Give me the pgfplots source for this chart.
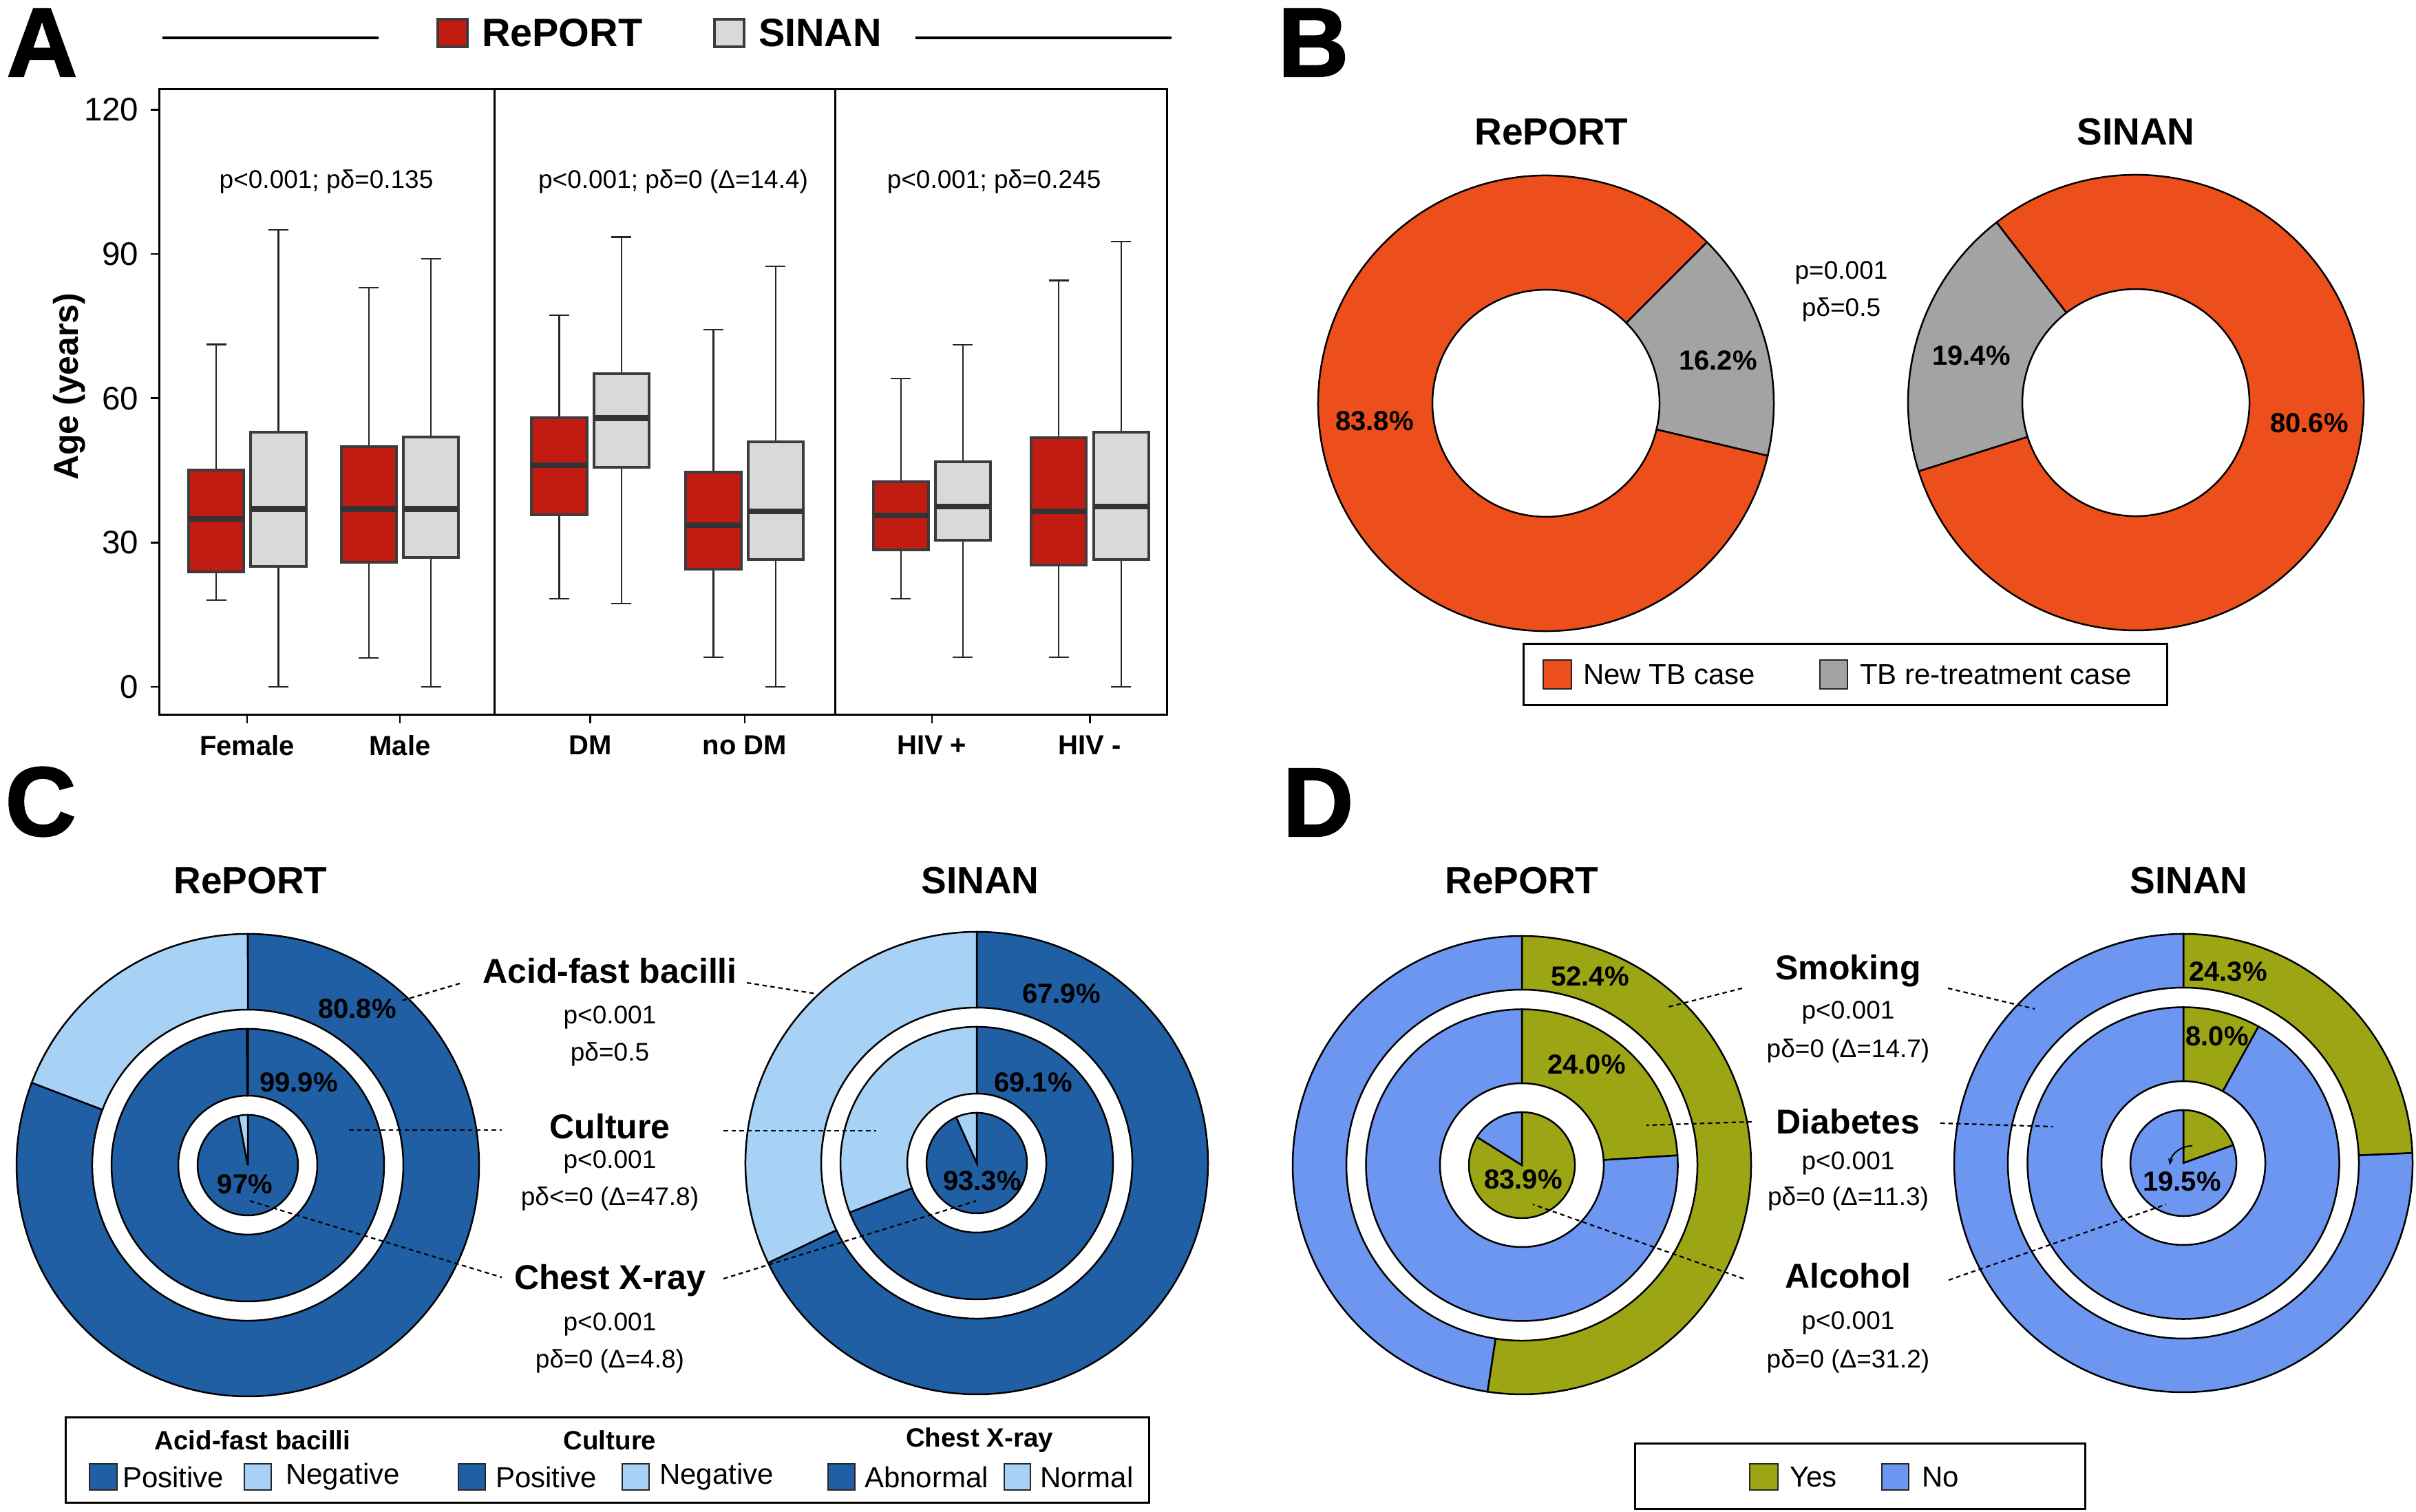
\documentclass[border=0pt]{standalone}
\usepackage{fontspec}
\setmainfont{Liberation Sans}
\newfontfamily\letterfont{Liberation Sans Bold}[FakeBold=1.6]
\usepackage{pgfplots}
\pgfplotsset{compat=1.18}
\usepgfplotslibrary{statistics}
\usetikzlibrary{arrows.meta}

\definecolor{repred}{RGB}{194,27,18}
\definecolor{sinangray}{RGB}{217,217,217}
\definecolor{boxedge}{RGB}{60,60,60}
\definecolor{neworange}{RGB}{236,79,28}
\definecolor{retgray}{RGB}{163,163,163}
\definecolor{dblue}{RGB}{33,95,164}
\definecolor{lblue}{RGB}{168,210,245}
\definecolor{ygreen}{RGB}{156,165,20}
\definecolor{nblue}{RGB}{109,150,240}

% annulus segment: cx cy rin rout a b colour  (axis units = 0.2pt)
\newcommand{\seg}[7]{\fill[#7, draw=black, line width=0.5pt] (axis cs:{#1+#4*cos(#5)},{#2+#4*sin(#5)}) arc[start angle={#5}, end angle={#6}, radius={#4*0.2pt}] -- (axis cs:{#1+#3*cos(#6)},{#2+#3*sin(#6)}) arc[start angle={#6}, end angle={#5}, radius={#3*0.2pt}] -- cycle;}
% pie segment: cx cy r a b colour
\newcommand{\pieseg}[6]{\fill[#6, draw=black, line width=0.5pt] (axis cs:#1,#2) -- (axis cs:{#1+#3*cos(#4)},{#2+#3*sin(#4)}) arc[start angle={#4}, end angle={#5}, radius={#3*0.2pt}] -- cycle;}
% ring: cx cy rin rout pct colA colB start (clockwise)
\newcommand{\ring}[8]{\seg{#1}{#2}{#3}{#4}{#8}{#8-3.6*#5}{#6}\seg{#1}{#2}{#3}{#4}{#8-3.6*#5}{#8-360}{#7}}
% pie: cx cy r pct colA colB start
\newcommand{\pie}[7]{\pieseg{#1}{#2}{#3}{#7}{#7-3.6*#4}{#5}\pieseg{#1}{#2}{#3}{#7-3.6*#4}{#7-360}{#6}}

\newcommand{\fs}[1]{\fontsize{#1}{#1}\selectfont}
\tikzset{lead/.style={dash pattern=on 1.3pt off 1pt, line width=0.45pt},
  sq/.style={draw=black!85, line width=0.5pt}}

\begin{document}
\begin{tikzpicture}
\path[use as bounding box] (0,0) rectangle (702pt,439.4pt);

% ---------------- Panel A : boxplots ----------------
\begin{axis}[
  at={(46.2pt,231.6pt)}, anchor=south west, scale only axis,
  width=292.8pt, height=181.8pt,
  xmin=2.07, xmax=15.20, ymin=-5.87, ymax=124.2,
  ytick={0,30,60,90,120},
  xtick={3.22,5.21,7.69,9.70,12.14,14.20},
  xticklabels={Female,Male,DM,no DM,HIV +,HIV -},
  tick align=outside, tick pos=left, major tick length=2.4pt,
  axis line style={line width=0.6pt},
  every tick/.style={black, line width=0.5pt},
  /pgf/number format/assume math mode=true,
  yticklabel style={font=\fs{9.5}},
  xticklabel style={font=\bfseries\fs{8}},
  ylabel={Age (years)},
  ylabel style={font=\bfseries\fs{10}, at={(axis description cs:-0.0888,0.525)}, anchor=center},
  boxplot/draw direction=y,
  boxplot/every median/.style={line width=1.7pt, draw=black!80},
  boxplot/every whisker/.style={line width=0.45pt, draw=black!85},
  boxplot/every box/.style={line width=0.8pt},
  clip=false,
]
% Female
\addplot[fill=repred, draw=boxedge, boxplot prepared={draw position=2.815, lower whisker=18.0, lower quartile=23.9, median=34.9, upper quartile=45.1, upper whisker=71.2, box extend=0.72, whisker extend=0.26}] coordinates {};
\addplot[fill=sinangray, draw=boxedge, boxplot prepared={draw position=3.625, lower whisker=0, lower quartile=25.0, median=37.0, upper quartile=53.0, upper whisker=95.0, box extend=0.72, whisker extend=0.26}] coordinates {};
% Male
\addplot[fill=repred, draw=boxedge, boxplot prepared={draw position=4.805, lower whisker=6.0, lower quartile=25.9, median=37.0, upper quartile=50.0, upper whisker=83.0, box extend=0.72, whisker extend=0.26}] coordinates {};
\addplot[fill=sinangray, draw=boxedge, boxplot prepared={draw position=5.615, lower whisker=0, lower quartile=26.9, median=37.0, upper quartile=52.0, upper whisker=89.0, box extend=0.72, whisker extend=0.26}] coordinates {};
% DM
\addplot[fill=repred, draw=boxedge, boxplot prepared={draw position=7.285, lower whisker=18.3, lower quartile=35.7, median=46.1, upper quartile=55.9, upper whisker=77.3, box extend=0.72, whisker extend=0.26}] coordinates {};
\addplot[fill=sinangray, draw=boxedge, boxplot prepared={draw position=8.095, lower whisker=17.3, lower quartile=45.6, median=55.9, upper quartile=65.1, upper whisker=93.5, box extend=0.72, whisker extend=0.26}] coordinates {};
% no DM
\addplot[fill=repred, draw=boxedge, boxplot prepared={draw position=9.295, lower whisker=6.1, lower quartile=24.4, median=33.6, upper quartile=44.7, upper whisker=74.3, box extend=0.72, whisker extend=0.26}] coordinates {};
\addplot[fill=sinangray, draw=boxedge, boxplot prepared={draw position=10.105, lower whisker=0, lower quartile=26.4, median=36.5, upper quartile=50.9, upper whisker=87.4, box extend=0.72, whisker extend=0.26}] coordinates {};
% HIV +
\addplot[fill=repred, draw=boxedge, boxplot prepared={draw position=11.735, lower whisker=18.3, lower quartile=28.4, median=35.6, upper quartile=42.7, upper whisker=64.1, box extend=0.72, whisker extend=0.26}] coordinates {};
\addplot[fill=sinangray, draw=boxedge, boxplot prepared={draw position=12.545, lower whisker=6.1, lower quartile=30.5, median=37.5, upper quartile=46.8, upper whisker=71.1, box extend=0.72, whisker extend=0.26}] coordinates {};
% HIV -
\addplot[fill=repred, draw=boxedge, boxplot prepared={draw position=13.795, lower whisker=6.1, lower quartile=25.3, median=36.5, upper quartile=51.8, upper whisker=84.5, box extend=0.72, whisker extend=0.26}] coordinates {};
\addplot[fill=sinangray, draw=boxedge, boxplot prepared={draw position=14.605, lower whisker=0, lower quartile=26.4, median=37.5, upper quartile=53.0, upper whisker=92.6, box extend=0.72, whisker extend=0.26}] coordinates {};
% group dividers
\addplot[black, line width=0.6pt] coordinates {(6.44,-5.87) (6.44,124.2)};
\addplot[black, line width=0.6pt] coordinates {(10.88,-5.87) (10.88,124.2)};
\node[font=\fs{7.4}] at (axis cs:4.25,105) {p<0.001; pδ=0.135};
\node[font=\fs{7.4}] at (axis cs:8.77,105) {p<0.001; pδ=0 (Δ=14.4)};
\node[font=\fs{7.4}] at (axis cs:12.95,105) {p<0.001; pδ=0.245};
\end{axis}

% ---------------- Overlay axis for panels B, C, D and labels ----------------
\begin{axis}[at={(0pt,0pt)}, anchor=south west, scale only axis,
  width=702pt, height=439.4pt, xmin=0, xmax=3510, ymin=0, ymax=2197,
  hide axis, clip=false]

% panel letters
\node[font=\letterfont\fs{28.5}] at (axis cs:61,2135) {A};
\node[font=\letterfont\fs{28.5}] at (axis cs:1908,2135) {B};
\node[font=\letterfont\fs{28.5}] at (axis cs:59,1032) {C};
\node[font=\letterfont\fs{28.5}] at (axis cs:1915,1031) {D};

% panel A legend
\draw[line width=0.8pt] (axis cs:236,2142) -- (axis cs:550,2142);
\draw[line width=0.8pt] (axis cs:1330,2142) -- (axis cs:1702,2142);
\filldraw[fill=repred, draw=boxedge, line width=0.8pt] (axis cs:636,2129) rectangle (axis cs:679,2169);
\node[anchor=west, inner sep=0, font=\bfseries\fs{11.5}] at (axis cs:699,2149) {RePORT};
\filldraw[fill=sinangray, draw=boxedge, line width=0.8pt] (axis cs:1038,2129) rectangle (axis cs:1081,2169);
\node[anchor=west, inner sep=0, font=\bfseries\fs{11.5}] at (axis cs:1101,2149) {SINAN};

% ---------------- Panel B ----------------
\node[font=\bfseries\fs{11}] at (axis cs:2254,2005) {RePORT};
\node[font=\bfseries\fs{11}] at (axis cs:3103,2005) {SINAN};
\ring{2246}{1611}{165}{331}{83.8}{neworange}{retgray}{-13.3}
\ring{3103}{1612}{165}{331}{80.6}{neworange}{retgray}{127.7}
\node[font=\bfseries\fs{8}] at (axis cs:1997,1585) {83.8\%};
\node[font=\bfseries\fs{8}] at (axis cs:2496,1673) {16.2\%};
\node[font=\bfseries\fs{8}] at (axis cs:2864,1680) {19.4\%};
\node[font=\bfseries\fs{8}] at (axis cs:3355,1582) {80.6\%};
\node[font=\fs{7.4}] at (axis cs:2675,1801) {p=0.001};
\node[font=\fs{7.4}] at (axis cs:2675,1747) {pδ=0.5};
% legend B
\draw[line width=0.6pt] (axis cs:2213,1172) rectangle (axis cs:3148,1261);
\filldraw[fill=neworange, sq] (axis cs:2242,1196) rectangle (axis cs:2283,1238);
\node[anchor=west, inner sep=0, font=\fs{8.4}] at (axis cs:2299,1217) {New TB case};
\filldraw[fill=retgray, sq] (axis cs:2644,1196) rectangle (axis cs:2684,1238);
\node[anchor=west, inner sep=0, font=\fs{8.4}] at (axis cs:2701,1217) {TB re-treatment case};

% ---------------- Panel C ----------------
\node[font=\bfseries\fs{11}] at (axis cs:364,917) {RePORT};
\node[font=\bfseries\fs{11}] at (axis cs:1424,917) {SINAN};
\ring{360}{504}{226}{336}{80.8}{dblue}{lblue}{90}
\ring{360}{504}{101}{198}{99.9}{dblue}{lblue}{90}
\pie{360}{504}{73}{97}{dblue}{lblue}{90}
\ring{1419}{507}{226}{336}{67.9}{dblue}{lblue}{90}
\ring{1419}{507}{101}{198}{69.1}{dblue}{lblue}{90}
\pie{1419}{507}{73}{93.3}{dblue}{lblue}{90}
\node[font=\bfseries\fs{8}] at (axis cs:519,731) {80.8\%};
\node[font=\bfseries\fs{8}] at (axis cs:434,624) {99.9\%};
\node[font=\bfseries\fs{8}] at (axis cs:356,476) {97\%};
\node[font=\bfseries\fs{8}] at (axis cs:1542,753) {67.9\%};
\node[font=\bfseries\fs{8}] at (axis cs:1501,624) {69.1\%};
\node[font=\bfseries\fs{8}] at (axis cs:1427,481) {93.3\%};
\node[font=\bfseries\fs{10}] at (axis cs:886,786) {Acid-fast bacilli};
\node[font=\fs{7.4}] at (axis cs:886,719) {p<0.001};
\node[font=\fs{7.4}] at (axis cs:886,665) {pδ=0.5};
\node[font=\bfseries\fs{10}] at (axis cs:886,560) {Culture};
\node[font=\fs{7.4}] at (axis cs:886,509) {p<0.001};
\node[font=\fs{7.4}] at (axis cs:886,455) {pδ<=0 (Δ=47.8)};
\node[font=\bfseries\fs{10}] at (axis cs:886,336) {Chest X-ray};
\node[font=\fs{7.4}] at (axis cs:886,273) {p<0.001};
\node[font=\fs{7.4}] at (axis cs:886,219) {pδ=0 (Δ=4.8)};
\draw[lead] (axis cs:668,768) -- (axis cs:580,742);
\draw[lead] (axis cs:1085,769) -- (axis cs:1186,753);
\draw[lead] (axis cs:507,555) -- (axis cs:729,555);
\draw[lead] (axis cs:1051,554) -- (axis cs:1273,554);
\draw[lead] (axis cs:363,452) -- (axis cs:729,341);
\draw[lead] (axis cs:1051,339) -- (axis cs:1418,452);
% legend C
\draw[line width=0.6pt] (axis cs:95,14) rectangle (axis cs:1669,138);
\node[font=\bfseries\fs{7.7}] at (axis cs:367,104) {Acid-fast bacilli};
\node[font=\bfseries\fs{7.7}] at (axis cs:886,104) {Culture};
\node[font=\bfseries\fs{7.7}] at (axis cs:1423,104) {Chest X-ray};
\filldraw[fill=dblue, sq] (axis cs:130,32) rectangle (axis cs:170,70);
\node[anchor=west, inner sep=0, font=\fs{8.4}] at (axis cs:177,51) {Positive};
\filldraw[fill=lblue, sq] (axis cs:355,32) rectangle (axis cs:394,70);
\node[anchor=west, inner sep=0, font=\fs{8.4}] at (axis cs:414,51) {Negative};
\filldraw[fill=dblue, sq] (axis cs:666,32) rectangle (axis cs:705,70);
\node[anchor=west, inner sep=0, font=\fs{8.4}] at (axis cs:719,51) {Positive};
\filldraw[fill=lblue, sq] (axis cs:904,32) rectangle (axis cs:943,70);
\node[anchor=west, inner sep=0, font=\fs{8.4}] at (axis cs:957,51) {Negative};
\filldraw[fill=dblue, sq] (axis cs:1203,32) rectangle (axis cs:1242,70);
\node[anchor=west, inner sep=0, font=\fs{8.4}] at (axis cs:1255,51) {Abnormal};
\filldraw[fill=lblue, sq] (axis cs:1459,32) rectangle (axis cs:1497,70);
\node[anchor=west, inner sep=0, font=\fs{8.4}] at (axis cs:1510,51) {Normal};

% ---------------- Panel D ----------------
\node[font=\bfseries\fs{11}] at (axis cs:2211,917) {RePORT};
\node[font=\bfseries\fs{11}] at (axis cs:3180,917) {SINAN};
\ring{2211}{504}{255}{333}{52.4}{ygreen}{nblue}{90}
\ring{2211}{504}{119}{226.5}{24.0}{ygreen}{nblue}{90}
\pie{2211}{504}{77}{83.9}{ygreen}{nblue}{90}
\ring{3172}{507}{255}{333}{24.3}{ygreen}{nblue}{90}
\ring{3172}{507}{119}{226.5}{8.0}{ygreen}{nblue}{90}
\pie{3172}{507}{77}{19.5}{ygreen}{nblue}{90}
\node[font=\bfseries\fs{8}] at (axis cs:2310,778) {52.4\%};
\node[font=\bfseries\fs{8}] at (axis cs:2305,650) {24.0\%};
\node[font=\bfseries\fs{8}] at (axis cs:2213,483) {83.9\%};
\node[font=\bfseries\fs{8}] at (axis cs:3237,785) {24.3\%};
\node[font=\bfseries\fs{8}] at (axis cs:3221,691) {8.0\%};
\node[font=\bfseries\fs{8}] at (axis cs:3170,480) {19.5\%};
\draw[-{Stealth[length=2pt]}, line width=0.4pt] (axis cs:3185,532) to[bend right=40] (axis cs:3152,504);
\node[font=\bfseries\fs{10}] at (axis cs:2685,786) {Smoking};
\node[font=\fs{7.4}] at (axis cs:2685,726) {p<0.001};
\node[font=\fs{7.4}] at (axis cs:2685,670) {pδ=0 (Δ=14.7)};
\node[font=\bfseries\fs{10}] at (axis cs:2685,567) {Diabetes};
\node[font=\fs{7.4}] at (axis cs:2685,507) {p<0.001};
\node[font=\fs{7.4}] at (axis cs:2685,455) {pδ=0 (Δ=11.3)};
\node[font=\bfseries\fs{10}] at (axis cs:2685,343) {Alcohol};
\node[font=\fs{7.4}] at (axis cs:2685,275) {p<0.001};
\node[font=\fs{7.4}] at (axis cs:2685,219) {pδ=0 (Δ=31.2)};
\draw[lead] (axis cs:2531,761) -- (axis cs:2420,733);
\draw[lead] (axis cs:2830,761) -- (axis cs:2956,731);
\draw[lead] (axis cs:2545,567) -- (axis cs:2392,562);
\draw[lead] (axis cs:2819,565) -- (axis cs:2982,560);
\draw[lead] (axis cs:2533,339) -- (axis cs:2227,447);
\draw[lead] (axis cs:2831,337) -- (axis cs:3147,447);
% legend D
\draw[line width=0.6pt] (axis cs:2375,5) rectangle (axis cs:3029,100);
\filldraw[fill=ygreen, sq] (axis cs:2542,32) rectangle (axis cs:2583,70);
\node[anchor=west, inner sep=0, font=\fs{8.4}] at (axis cs:2599,51) {Yes};
\filldraw[fill=nblue, sq] (axis cs:2734,32) rectangle (axis cs:2773,70);
\node[anchor=west, inner sep=0, font=\fs{8.4}] at (axis cs:2791,51) {No};
\end{axis}
\end{tikzpicture}
\end{document}
